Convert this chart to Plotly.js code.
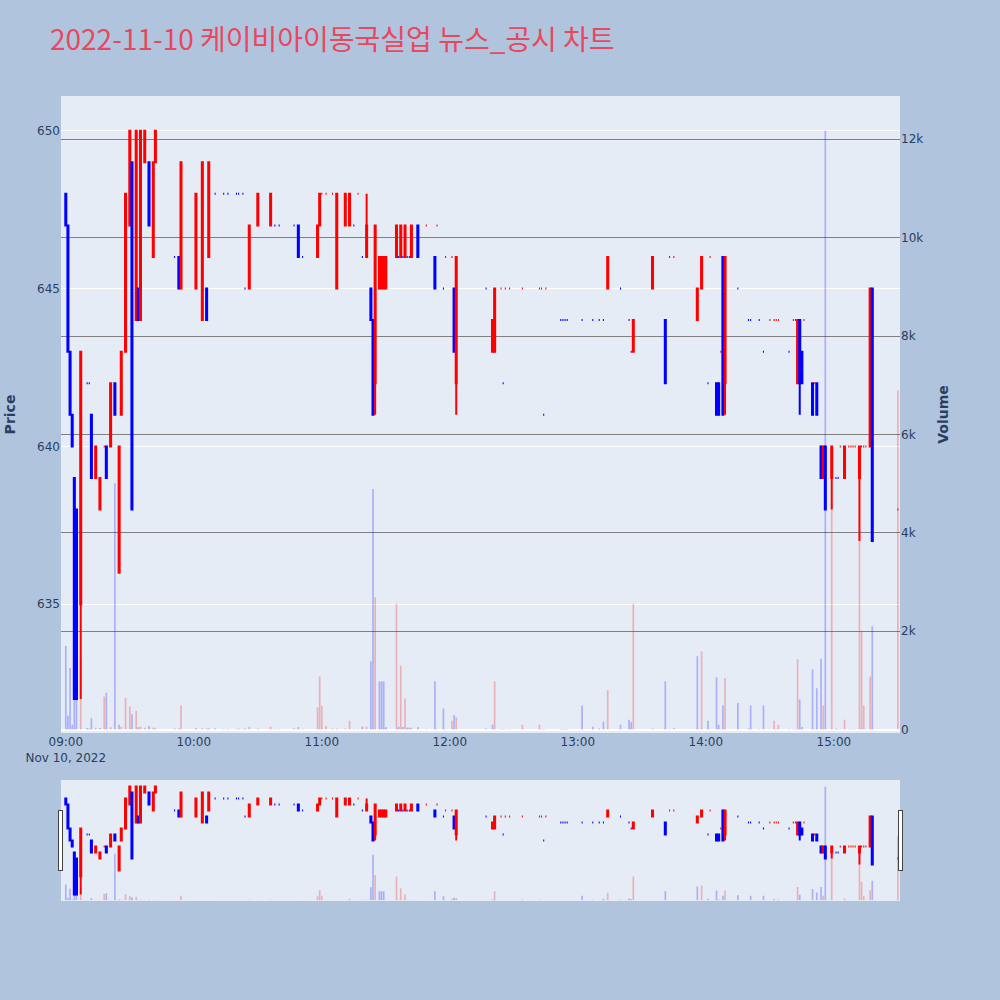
<!DOCTYPE html>
<html>
<head>
<meta charset="utf-8">
<script src="https://cdn.plot.ly/plotly-3.0.1.min.js"></script>
<style>
html,body{margin:0;padding:0;background:#b0c4de;}
#chart{width:1000px;height:1000px;}
</style>
</head>
<body>
<div id="chart"></div>
<script>
const tradeDate = '2022-11-10';
const times = ['09:00','09:01','09:02','09:03','09:04','09:05','09:07','09:10','09:11','09:12',
'09:14','09:16','09:18','09:19','09:21','09:23','09:25','09:26','09:28','09:30',
'09:31','09:33','09:34','09:35','09:37','09:39','09:41','09:42','09:51','09:53',
'09:54','10:01','10:04','10:06','10:07','10:10','10:14','10:16','10:20','10:21',
'10:23','10:24','10:26','10:30','10:36','10:38','10:40','10:47','10:49','10:51',
'10:58','10:59','11:00','11:02','11:05','11:07','11:11','11:13','11:15','11:17',
'11:19','11:21','11:23','11:24','11:25','11:27','11:28','11:29','11:30','11:35',
'11:36','11:37','11:38','11:39','11:40','11:41','11:42','11:45','11:49','11:53',
'11:54','11:57','11:58','12:01','12:02','12:03','12:17','12:20','12:21','12:24',
'12:25','12:26','12:28','12:34','12:42','12:43','12:44','12:45','12:52','12:53',
'12:54','12:55','13:02','13:07','13:10','13:12','13:14','13:20','13:24','13:25',
'13:26','13:35','13:41','13:43','13:45','13:56','13:58','14:01','14:02','14:05',
'14:06','14:07','14:08','14:09','14:15','14:20','14:21','14:25','14:27','14:30',
'14:32','14:33','14:34','14:39','14:41','14:42','14:43','14:44','14:45','14:46',
'14:50','14:51','14:52','14:54','14:55','14:56','14:59','15:01','15:02','15:03',
'15:05','15:07','15:08','15:09','15:10','15:12','15:13','15:14','15:15','15:17',
'15:18','15:30'];
const openPrice = [648,647,643,641,639,638,635,642,642,641,
639,638,640,640,640,642,636,641,643,647,
649,644,645,644,649,649,646,649,646,646,
645,645,644,645,646,648,648,648,648,648,
648,645,645,647,647,647,647,647,647,646,
646,647,648,648,648,645,647,647,647,648,
646,646,645,644,642,645,645,645,645,646,
646,646,646,646,646,646,646,647,647,646,
647,645,646,646,645,642,645,643,643,645,
642,645,645,645,645,645,641,645,644,644,
644,644,644,644,644,644,645,645,644,643,
643,645,644,646,646,644,645,642,646,642,
642,643,646,642,645,644,644,644,643,644,
644,644,644,643,644,644,642,644,643,644,
642,642,642,640,639,640,639,639,639,640,
639,640,640,640,640,639,640,640,640,640,
645,638];
const highPrice = [648,647,643,641,639,638,643,642,642,641,
640,639,640,640,642,642,640,643,648,650,
649,650,645,650,650,649,649,650,646,646,
649,648,649,645,649,648,648,648,648,648,
648,645,647,648,648,647,647,647,647,646,
647,648,648,648,648,648,648,648,647,648,
646,648,645,644,647,646,646,646,646,647,
646,647,646,647,646,646,647,647,647,646,
647,645,646,646,645,646,645,644,645,645,
642,645,645,645,645,645,641,645,644,644,
644,644,644,644,644,644,646,645,644,643,
644,646,644,646,646,645,646,642,646,642,
642,643,646,646,645,644,644,644,643,644,
644,644,644,643,644,644,644,644,643,644,
642,642,642,640,640,640,640,639,639,640,
640,640,640,640,640,640,640,640,640,645,
645,638];
const lowPrice = [647,643,641,640,632,632,632,642,642,639,
639,638,640,639,640,641,636,641,643,647,
638,644,644,644,649,647,646,649,646,645,
645,645,644,644,646,648,648,648,648,648,
648,645,645,647,647,647,647,647,646,646,
646,647,648,648,648,645,647,647,647,648,
646,646,644,641,641,645,645,645,645,646,
646,646,646,646,646,646,646,646,647,645,
647,645,646,646,643,641,645,643,643,645,
642,645,645,645,645,645,641,645,644,644,
644,644,644,644,644,644,645,645,644,643,
643,645,642,646,646,644,645,642,646,641,
641,643,641,641,645,644,644,644,643,644,
644,644,644,643,644,644,642,641,642,644,
641,642,641,639,639,638,638,639,639,640,
639,640,640,640,640,637,640,640,640,640,
637,638];
const closePrice = [647,643,641,640,632,632,643,642,642,639,
640,639,640,639,642,641,640,643,648,650,
638,650,644,650,650,647,649,650,646,645,
649,648,649,644,649,648,648,648,648,648,
648,645,647,648,648,647,647,647,646,646,
647,648,648,648,648,648,648,648,647,648,
646,647,644,641,647,646,646,646,646,647,
646,647,646,647,646,646,647,646,647,645,
647,645,646,646,643,646,645,644,645,645,
642,645,645,645,645,645,641,645,644,644,
644,644,644,644,644,644,646,645,644,643,
644,646,642,646,646,645,646,642,646,641,
641,643,641,646,645,644,644,644,643,644,
644,644,644,643,644,644,644,642,642,644,
641,642,641,639,640,638,640,639,639,640,
640,640,640,640,640,640,640,640,640,645,
637,638];
const volume = [1700,280,1250,100,2960,1280,1430,30,20,230,
40,30,670,750,50,5000,100,60,640,470,
310,380,50,60,40,70,40,30,20,20,
490,30,30,20,30,20,10,10,10,20,
10,20,60,20,60,10,10,20,50,10,
450,1080,490,70,20,20,20,180,10,10,
60,60,1390,4890,2690,980,980,980,50,2560,
60,1300,50,630,40,40,40,50,10,980,
10,430,10,180,290,250,20,100,980,10,
10,10,10,100,100,10,10,10,10,10,
10,10,490,60,20,160,800,100,200,150,
2560,20,980,10,30,1490,1590,180,10,1060,
100,10,490,1050,540,20,490,10,490,10,
180,10,100,10,10,10,1430,610,50,10,
1220,10,840,1440,490,12180,4600,20,10,10,
200,10,10,10,10,4000,2000,490,10,1080,
2100,6900];

const xs = times.map(t => tradeDate + ' ' + t);

// volume colour: up / down versus previous close
const volColors = [];
let up = false;
for (let i = 0; i < closePrice.length; i++) {
  if (i > 0) {
    if (closePrice[i] > closePrice[i-1]) up = true;
    else if (closePrice[i] < closePrice[i-1]) up = false;
  }
  volColors.push(up ? 'rgba(255,0,0,0.25)' : 'rgba(0,0,255,0.25)');
}

const candle = {
  type: 'candlestick',
  x: xs, open: openPrice, high: highPrice, low: lowPrice, close: closePrice,
  increasing: {line: {color: 'red', width: 2}, fillcolor: 'red'},
  decreasing: {line: {color: 'blue', width: 2}, fillcolor: 'blue'},
  name: 'Price', yaxis: 'y', showlegend: false
};
const vol = {
  type: 'bar', x: xs, y: volume, yaxis: 'y2',
  marker: {color: volColors, line: {width: 0}},
  name: 'Volume', showlegend: false
};

const xRange = [tradeDate + ' 08:57:45', tradeDate + ' 15:31:00'];
const layout = {
  width: 1000, height: 1000,
  paper_bgcolor: '#b0c4de',
  plot_bgcolor: '#e5ecf6',
  font: {family: 'DejaVu Sans, Verdana, sans-serif', size: 12, color: '#2a3f5f'},
  title: {
    text: '2022-11-10 케이비아이동국실업 뉴스_공시 차트',
    x: 0.05, xanchor: 'left', y: 0.96, yanchor: 'middle',
    font: {family: 'Noto Sans CJK KR, sans-serif', size: 28, color: '#e8485e'}
  },
  margin: {l: 61, r: 100, t: 96, b: 100},
  showlegend: false,
  xaxis: {
    type: 'date', range: xRange, showgrid: false, zeroline: false,
    rangeslider: {visible: true, range: xRange, bgcolor: '#e5ecf6', thickness: 0.15}
  },
  yaxis: {
    title: {text: 'Price', font: {size: 14, weight: 'bold'}, standoff: 18},
    range: [630.92, 651.1], gridcolor: 'white', zeroline: false, showline: false
  },
  yaxis2: {
    title: {text: 'Volume', font: {size: 14, weight: 'bold'}, standoff: 15},
    overlaying: 'y', side: 'right', range: [-70, 12880],
    showgrid: true, gridcolor: 'gray', zeroline: true, zerolinecolor: 'white', zerolinewidth: 2
  }
};

Plotly.newPlot('chart', [candle, vol], layout, {displayModeBar: false});
</script>
</body>
</html>
